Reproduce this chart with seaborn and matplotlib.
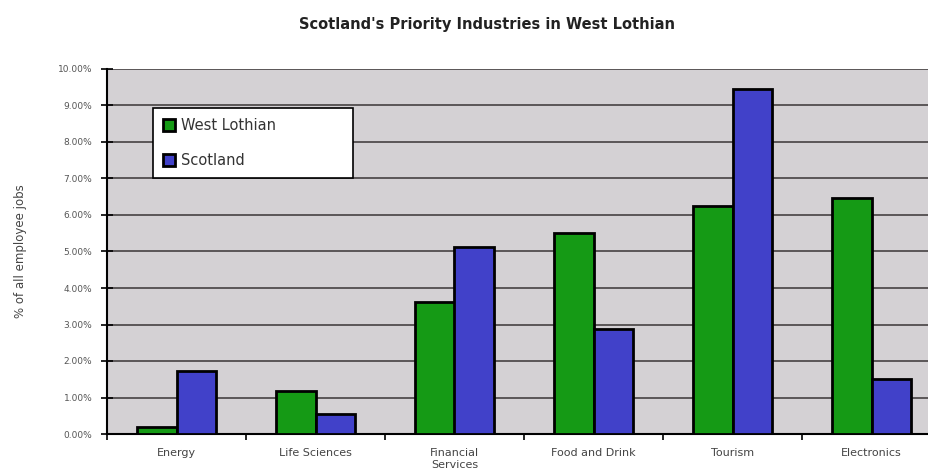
import matplotlib
matplotlib.use("Agg")
import matplotlib.pyplot as plt
import seaborn as sns
import pandas as pd
from matplotlib.ticker import FixedLocator, FuncFormatter

# Share of all employee jobs (%) by priority industry
industries = ["Energy", "Life Sciences", "Financial\nServices", "Food and Drink", "Tourism", "Electronics"]
west_lothian = [0.19, 1.17, 3.63, 5.50, 6.24, 6.46]
scotland = [1.72, 0.55, 5.13, 2.88, 9.45, 1.52]
series_names = ["West Lothian", "Scotland"]
y_ticks = [0, 1, 2, 3, 4, 5, 6, 7, 8, 9, 10]

df = pd.DataFrame({
    "industry": industries * 2,
    "share": west_lothian + scotland,
    "area": [series_names[0]] * len(industries) + [series_names[1]] * len(industries),
})

sns.set_style("white")
plt.rcParams["font.family"] = ["DejaVu Sans"]

fig = plt.figure(figsize=(9.29, 4.76), dpi=100)
ax = fig.add_axes([107 / 929, 42 / 476, 834 / 929, 365 / 476])
ax.set_facecolor("#d4d1d4")

palette = {series_names[0]: "#159a15", series_names[1]: "#4141c9"}
sns.barplot(data=df, x="industry", y="share", hue="area", palette=palette,
            width=0.575, dodge=True, saturation=1, edgecolor="black",
            linewidth=2, ax=ax, zorder=3, legend=True)

ax.set_ylim(0, 10)
ax.set_xlim(-0.5, len(industries) - 0.5)
ax.yaxis.set_major_locator(FixedLocator(y_ticks))
ax.yaxis.set_major_formatter(FuncFormatter(lambda v, p: f"{v:.2f}%"))
ax.grid(axis="y", color="#3a3535", linewidth=1.1, zorder=1)
ax.set_axisbelow(True)

for side in ["top", "right"]:
    ax.spines[side].set_visible(False)
ax.spines["left"].set_color("black")
ax.spines["left"].set_linewidth(1.5)
ax.spines["bottom"].set_color("black")
ax.spines["bottom"].set_linewidth(1.5)

ax.tick_params(axis="y", which="major", direction="inout", length=9, width=1.2,
               color="black", labelsize=6.5, labelcolor="#555555", pad=6, left=True)
ax.set_xticks(range(len(industries)))
ax.set_xticklabels(industries)
ax.tick_params(axis="x", which="major", length=0, labelsize=8, labelcolor="#444444", pad=10)
ax.set_xticks([i - 0.5 for i in range(len(industries) + 1)], minor=True)
ax.tick_params(axis="x", which="minor", direction="out", length=4, width=1.2,
               color="black", bottom=True)
for lbl in ax.get_xticklabels():
    lbl.set_linespacing(1.3)

ax.set_xlabel("")
ax.set_ylabel("% of all employee jobs", fontsize=8.5, color="#444444", labelpad=22)

leg = ax.legend(loc="upper left", bbox_to_anchor=(0.055, 0.696, 0.24, 0.197),
                mode="expand", frameon=True, fancybox=False, framealpha=1,
                edgecolor="black", facecolor="white", fontsize=10.5,
                handlelength=0.85, handleheight=0.85, handletextpad=0.4,
                labelspacing=1.35, borderpad=0.7, borderaxespad=0)
leg.get_frame().set_linewidth(1.2)
for t in leg.get_texts():
    t.set_color("#333333")

fig.text(487 / 929, 1 - 25 / 476, "Scotland's Priority Industries in West Lothian",
         ha="center", va="center", fontsize=10.5, fontweight="bold", color="#222222")

fig.savefig("out.png", dpi=100)
